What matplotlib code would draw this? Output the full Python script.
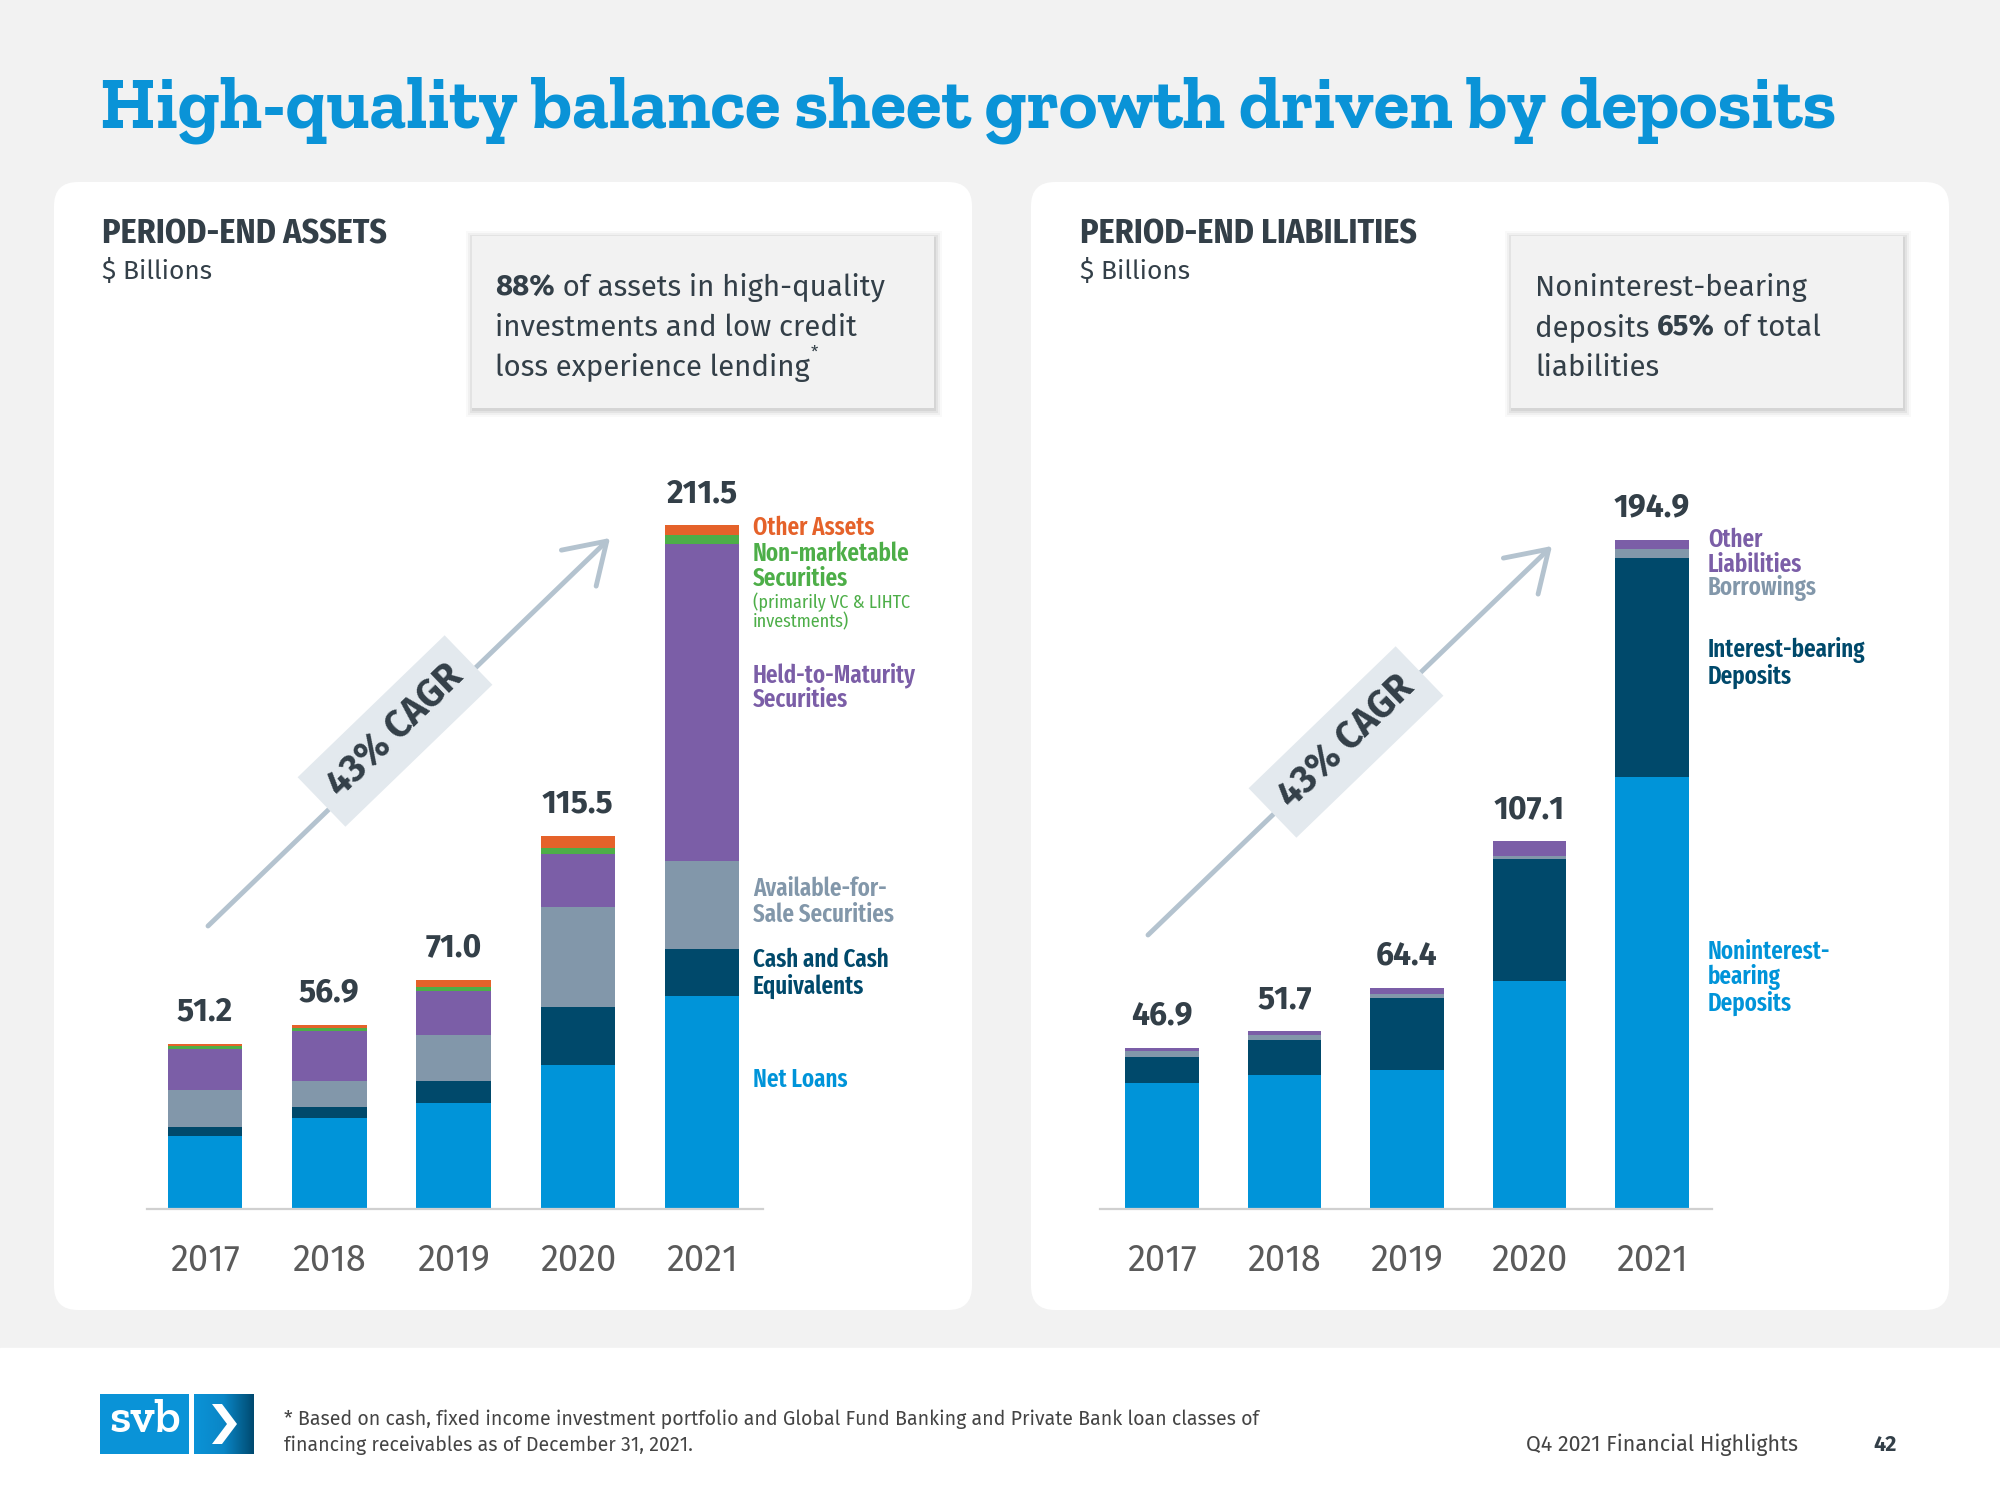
import matplotlib
matplotlib.use("Agg")
import matplotlib.pyplot as plt
import numpy as np
from matplotlib.patches import FancyBboxPatch, Rectangle, Polygon

# data ($ billions)
years = ["2017", "2018", "2019", "2020", "2021"]

net_loans = [22.6, 28.1, 32.9, 44.7, 65.9]
cash = [2.9, 3.6, 6.8, 17.7, 14.6]
afs = [11.4, 7.8, 14.0, 30.9, 27.2]
htm = [12.7, 15.5, 13.8, 16.6, 98.2]
non_marketable = [0.7, 0.9, 1.3, 1.9, 2.5]
other_assets = [0.9, 1.0, 2.2, 3.7, 3.1]
asset_totals = [51.2, 56.9, 71.0, 115.5, 211.5]

noninterest_dep = [36.7, 39.0, 40.6, 66.5, 125.8]
interest_dep = [7.6, 10.3, 20.9, 35.4, 63.6]
borrowings = [1.8, 1.4, 1.0, 1.0, 2.7]
other_liab = [0.8, 1.0, 1.9, 4.2, 2.8]
liab_totals = [46.9, 51.7, 64.4, 107.1, 194.9]

BLUE = "#0094d9"
NAVY = "#00496b"
GREY = "#8297aa"
PURPLE = "#7b5ea7"
GREEN = "#4dae48"
ORANGE = "#e5622a"
DARK = "#333f48"
TITLE = "#0a93d7"

W, H = 2000, 1500
fig = plt.figure(figsize=(20, 15), dpi=100, facecolor="#f2f2f2")

# background canvas in pixel units (y down)
bg = fig.add_axes([0, 0, 1, 1])
bg.set_xlim(0, W)
bg.set_ylim(H, 0)
bg.axis("off")
bg.set_facecolor("none")

bg.add_patch(Rectangle((0, 1348), W, 152, color="white", zorder=0))
for x0 in (54, 1031):
    bg.add_patch(FancyBboxPatch((x0 + 24, 182 + 24), 918 - 48, 1128 - 48,
                                boxstyle="round,pad=24", fc="white", ec="none", zorder=0))

renderer = fig.canvas.get_renderer()

# title, sized to span the same width as on the slide
title = bg.text(100, 128, "High-quality balance sheet growth driven by deposits", family="Zilla Slab",
                weight="bold", fontsize=64, color=TITLE, va="baseline")
title.set_fontsize(64 * 1737 / title.get_window_extent(renderer=renderer).width)


def rich_line(x, y, parts, size, color=DARK):
    for txt, wt in parts:
        t = bg.text(x, y, txt, family="Fira Sans", weight=wt, fontsize=size, color=color, va="baseline")
        x += t.get_window_extent(renderer=renderer).width
    return x


def callout(x0, y0, w, h):
    for k, a in ((7, 0.025), (5, 0.035), (3, 0.05), (1, 0.06)):
        bg.add_patch(Rectangle((x0 - k + 1, y0 - k + 2), w + 2 * k, h + 2 * k, fc="black",
                               alpha=a, ec="none", zorder=1))
    bg.add_patch(Rectangle((x0, y0), w, h, fc="#f2f2f2", ec="none", zorder=2))


# panel headers
for x0, name in ((102, "PERIOD-END ASSETS"), (1080, "PERIOD-END LIABILITIES")):
    bg.text(x0, 244, name, family="Fira Sans Condensed", weight="bold", fontsize=24.5, color=DARK, va="baseline")
    bg.text(x0, 279, "$ Billions", family="Fira Sans", fontsize=19, color=DARK, va="baseline")

callout(472, 236, 462, 172)
callout(1511, 236, 392, 172)
sz = 21.2
rich_line(495, 296, [("88%", "bold"), (" of assets in high-quality", "normal")], sz)
rich_line(495, 336, [("investments and low credit", "normal")], sz)
xe = rich_line(495, 376, [("loss experience lending", "normal")], sz)
bg.text(xe + 1, 358, "*", family="Fira Sans", fontsize=12, color=DARK, va="baseline")
rich_line(1535, 296, [("Noninterest-bearing", "normal")], sz)
rich_line(1535, 336, [("deposits ", "normal"), ("65%", "bold"), (" of total", "normal")], sz)
rich_line(1535, 376, [("liabilities", "normal")], sz)

# CAGR arrows
for (x1, y1, x2, y2, cx, cy) in ((208, 926, 610, 538, 395, 731), (1148, 935, 1552, 546, 1346, 742)):
    bg.annotate("", xy=(x2, y2), xytext=(x1, y1),
                arrowprops=dict(arrowstyle="->,head_length=0.7,head_width=0.45", lw=3.5,
                                color="#b4c3cf", mutation_scale=40, shrinkA=0, shrinkB=0))
    bg.text(cx, cy, "43% CAGR", family="Fira Sans", weight="bold", fontsize=27, color=DARK,
            rotation=44, rotation_mode="anchor", ha="center", va="center",
            bbox=dict(boxstyle="square,pad=0.42", fc="#e3e9ee", ec="none"))


def bar_axes(rect_px, xlim, ylim):
    x0, x1, ybase, top = rect_px
    a = fig.add_axes([x0 / W, (H - ybase) / H, (x1 - x0) / W, (ybase - top) / H])
    a.set_xlim(*xlim)
    a.set_ylim(*ylim)
    a.patch.set_alpha(0)
    for s in ("top", "right", "left"):
        a.spines[s].set_visible(False)
    a.spines["bottom"].set_color("#d0d0d0")
    a.spines["bottom"].set_linewidth(1.6)
    a.set_yticks([])
    a.set_xticks(range(len(years)))
    a.set_xticklabels(years, family="Fira Sans", fontsize=26, color="#5a5a5a")
    a.tick_params(axis="x", length=0, pad=24)
    return a


x = np.arange(len(years))
tot_style = dict(ha="center", va="center", family="Fira Sans", weight="bold", fontsize=23, color=DARK)

# assets
axl = bar_axes((147, 763, 1209, 1209 - 240 * 3.232), (-0.467, 4.49), (0, 240))
bottom = np.zeros(len(years))
for vals, col in ((net_loans, BLUE), (cash, NAVY), (afs, GREY), (htm, PURPLE),
                  (non_marketable, GREEN), (other_assets, ORANGE)):
    axl.bar(x, vals, 0.6, bottom=bottom, color=col, linewidth=0)
    bottom += np.array(vals)
for xi, tot in zip(x, asset_totals):
    axl.annotate(f"{tot:.1f}", (xi, tot), xytext=(0, 23), textcoords="offset points", **tot_style)

# liabilities
axr = bar_axes((1100, 1712, 1209, 1209 - 230 * 3.435), (-0.506, 4.49), (0, 230))
bottom = np.zeros(len(years))
for vals, col in ((noninterest_dep, BLUE), (interest_dep, NAVY), (borrowings, GREY), (other_liab, PURPLE)):
    axr.bar(x, vals, 0.6, bottom=bottom, color=col, linewidth=0)
    bottom += np.array(vals)
for xi, tot in zip(x, liab_totals):
    axr.annotate(f"{tot:.1f}", (xi, tot), xytext=(0, 23), textcoords="offset points", **tot_style)

# series labels
lab = dict(family="Fira Sans Extra Condensed", weight="semibold", fontsize=18, va="center")
small = dict(family="Fira Sans Condensed", fontsize=13, va="center")
for y, t, c in ((528, "Other Assets", ORANGE), (554, "Non-marketable", GREEN), (579, "Securities", GREEN),
                (675, "Held-to-Maturity", PURPLE), (700, "Securities", PURPLE),
                (889, "Available-for-", GREY), (915, "Sale Securities", GREY),
                (960, "Cash and Cash", NAVY), (986, "Equivalents", NAVY), (1080, "Net Loans", BLUE)):
    bg.text(753, y, t, color=c, **lab)
bg.text(753, 602, "(primarily VC & LIHTC", color=GREEN, **small)
bg.text(753, 622, "investments)", color=GREEN, **small)
for y, t, c in ((540, "Other", PURPLE), (565, "Liabilities", PURPLE), (588, "Borrowings", GREY),
                (650, "Interest-bearing", NAVY), (676, "Deposits", NAVY),
                (952, "Noninterest-", BLUE), (977, "bearing", BLUE), (1003, "Deposits", BLUE)):
    bg.text(1708, y, t, color=c, **lab)

# footer
bg.add_patch(Rectangle((100, 1394), 89, 60, fc="#0a93d7", ec="none"))
grad = np.linspace(0, 1, 64).reshape(1, -1)
cmap = matplotlib.colors.LinearSegmentedColormap.from_list("g", ["#0a93d7", "#0a86c6", "#004a70"])
bg.imshow(grad, extent=(194, 254, 1454, 1394), cmap=cmap, aspect="auto", zorder=1)
bg.set_xlim(0, W)
bg.set_ylim(H, 0)
bg.text(145, 1421, "svb", family="Zilla Slab", weight="semibold", fontsize=34, color="white",
        ha="center", va="center")
bg.add_patch(Polygon([(212, 1404), (222, 1404), (237, 1424), (222, 1444), (212, 1444), (227, 1424)],
                     closed=True, fc="white", ec="none", zorder=3))

foot = dict(family="Fira Sans", fontsize=14.1, color="#444444", va="baseline")
bg.text(284, 1425, "* Based on cash, fixed income investment portfolio and Global Fund Banking and Private Bank loan classes of", **foot)
bg.text(284, 1451, "financing receivables as of December 31, 2021.", **foot)
bg.text(1798, 1451, "Q4 2021 Financial Highlights", ha="right", family="Fira Sans", fontsize=15.5,
        color="#444444", va="baseline")
bg.text(1885, 1451, "42", family="Fira Sans", weight="bold", fontsize=15.5, color=DARK, ha="center", va="baseline")

fig.savefig("out.png", dpi=100, facecolor=fig.get_facecolor())
